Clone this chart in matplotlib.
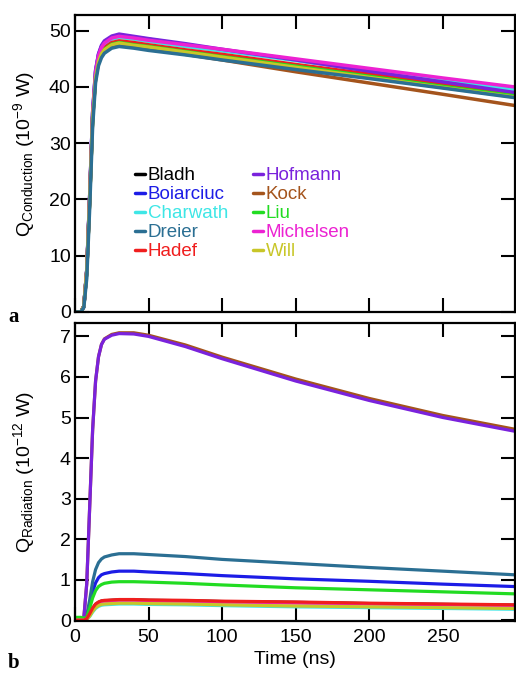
import matplotlib
matplotlib.use("Agg")
import matplotlib.pyplot as plt

plt.rcParams["font.family"] = ["Liberation Sans", "DejaVu Sans"]
plt.rcParams["mathtext.fontset"] = "custom"
plt.rcParams["mathtext.rm"] = "Liberation Sans"
plt.rcParams["mathtext.it"] = "Liberation Sans:italic"

# Model names (legend order) and line colours
models = ["Bladh", "Boiarciuc", "Charwath", "Dreier", "Hadef",
          "Hofmann", "Kock", "Liu", "Michelsen", "Will"]
colors = ["#000000", "#1c1ce6", "#3ee6e6", "#2b6f93", "#f01e1e",
          "#7a22dc", "#a4541c", "#22dc22", "#ec22d2", "#c8c628"]

# Time axis (ns)
time_ns = [0, 4, 6, 8, 10, 12, 14, 16, 18, 20, 25, 30, 40, 50, 75, 100, 150, 200, 250, 299]

# Conductive heat loss (1e-9 W)
q_cond = {
    "Bladh":     [0, 0, 1.0, 7.2, 20.2, 34.6, 41.8, 44.6, 46.1, 46.8, 47.7, 48.0, 47.6, 47.3, 46.4, 45.5, 43.8, 42.0, 40.2, 38.5],
    "Boiarciuc": [0, 0, 1.0, 7.4, 20.7, 35.4, 42.8, 45.8, 47.2, 48.0, 48.9, 49.2, 48.8, 48.5, 47.5, 46.6, 44.8, 42.9, 41.1, 39.3],
    "Charwath":  [0, 0, 1.0, 7.3, 20.5, 35.1, 42.5, 45.4, 46.8, 47.6, 48.5, 48.8, 48.5, 48.1, 47.2, 46.4, 44.7, 42.9, 41.2, 39.5],
    "Dreier":    [0, 0, 0.8, 6.0, 18.5, 33.0, 40.8, 43.8, 45.2, 46.0, 46.9, 47.2, 46.9, 46.5, 45.7, 44.8, 43.1, 41.5, 39.8, 38.1],
    "Hadef":     [0, 0, 1.0, 7.2, 20.2, 34.7, 41.9, 44.8, 46.3, 47.0, 47.9, 48.2, 47.9, 47.5, 46.6, 45.8, 44.0, 42.3, 40.5, 38.8],
    "Hofmann":   [0, 0, 1.0, 7.4, 20.7, 35.6, 43.0, 45.9, 47.4, 48.2, 49.05, 49.4, 49.0, 48.6, 47.7, 46.7, 44.8, 42.8, 40.9, 39.0],
    "Kock":      [0, 0, 1.0, 7.1, 20.0, 34.3, 41.4, 44.3, 45.7, 46.4, 47.3, 47.6, 47.2, 46.8, 45.8, 44.8, 42.7, 40.7, 38.7, 36.7],
    "Liu":       [0, 0, 1.0, 7.2, 20.1, 34.5, 41.7, 44.5, 46.0, 46.7, 47.6, 47.9, 47.5, 47.2, 46.3, 45.4, 43.7, 41.9, 40.1, 38.4],
    "Michelsen": [0, 0, 1.0, 7.4, 20.6, 35.3, 42.6, 45.6, 47.0, 47.8, 48.7, 49.0, 48.7, 48.3, 47.5, 46.7, 45.0, 43.3, 41.6, 40.0],
    "Will":      [0, 0, 1.0, 7.2, 20.1, 34.4, 41.6, 44.5, 45.9, 46.6, 47.5, 47.8, 47.4, 47.1, 46.2, 45.3, 43.5, 41.7, 39.9, 38.2],
}

# Radiative heat loss (1e-12 W)
q_rad = {
    "Bladh":     [0, 0, 0, 0.04, 0.16, 0.29, 0.39, 0.44, 0.47, 0.48, 0.49, 0.50, 0.50, 0.49, 0.48, 0.46, 0.44, 0.41, 0.39, 0.37],
    "Boiarciuc": [0, 0, 0, 0.09, 0.37, 0.70, 0.92, 1.05, 1.12, 1.15, 1.19, 1.21, 1.21, 1.19, 1.15, 1.10, 1.02, 0.96, 0.89, 0.83],
    "Charwath":  [0, 0, 0, 0.02, 0.09, 0.20, 0.29, 0.34, 0.37, 0.38, 0.39, 0.40, 0.40, 0.39, 0.38, 0.36, 0.33, 0.31, 0.29, 0.27],
    "Dreier":    [0, 0, 0, 0.12, 0.50, 0.95, 1.25, 1.42, 1.51, 1.56, 1.61, 1.64, 1.64, 1.62, 1.57, 1.50, 1.40, 1.30, 1.21, 1.12],
    "Hadef":     [0, 0, 0, 0.04, 0.16, 0.30, 0.40, 0.45, 0.48, 0.49, 0.50, 0.51, 0.51, 0.50, 0.49, 0.47, 0.45, 0.42, 0.40, 0.38],
    "Hofmann":   [0, 0, 0.05, 0.9, 2.8, 4.7, 5.9, 6.5, 6.8, 6.93, 7.03, 7.07, 7.06, 7.00, 6.75, 6.45, 5.90, 5.42, 5.00, 4.66],
    "Kock":      [0, 0, 0.05, 0.9, 2.8, 4.7, 5.9, 6.5, 6.8, 6.94, 7.05, 7.09, 7.09, 7.03, 6.79, 6.49, 5.95, 5.47, 5.05, 4.71],
    "Liu":       [0.07, 0.07, 0.05, 0.07, 0.29, 0.55, 0.73, 0.83, 0.88, 0.91, 0.94, 0.95, 0.95, 0.94, 0.91, 0.87, 0.80, 0.75, 0.70, 0.65],
    "Michelsen": [0, 0, 0, 0.03, 0.14, 0.27, 0.37, 0.42, 0.45, 0.46, 0.47, 0.48, 0.48, 0.47, 0.46, 0.44, 0.42, 0.40, 0.38, 0.36],
    "Will":      [0, 0, 0, 0.02, 0.10, 0.22, 0.31, 0.36, 0.39, 0.40, 0.41, 0.42, 0.42, 0.41, 0.40, 0.38, 0.35, 0.33, 0.31, 0.29],
}

# Drawing orders: Dreier on top in the conduction panel; Hofmann over Kock and
# Hadef over the close low curves in the radiation panel
cond_order = ["Bladh", "Boiarciuc", "Charwath", "Hadef", "Hofmann", "Kock",
              "Liu", "Michelsen", "Will", "Dreier"]
rad_order = ["Bladh", "Boiarciuc", "Charwath", "Dreier", "Kock", "Hofmann",
             "Liu", "Michelsen", "Will", "Hadef"]

FS = 14
LW = 2.5

fig = plt.figure(figsize=(5.16, 6.74), dpi=100)
ax1 = fig.add_axes([0.1453, 0.5371, 0.8527, 0.4407])
ax2 = fig.add_axes([0.1453, 0.0786, 0.8527, 0.4421])

cond_lines = {}
for name in cond_order:
    col = colors[models.index(name)]
    cond_lines[name], = ax1.plot(time_ns, q_cond[name], color=col, lw=LW, label=name,
                                 solid_capstyle="round")

for name in rad_order:
    ax2.plot(time_ns, q_rad[name], color=colors[models.index(name)], lw=LW - 0.2,
             solid_capstyle="round")

for ax in (ax1, ax2):
    ax.set_xlim(0, 299)
    ax.set_xticks([0, 50, 100, 150, 200, 250])
    ax.tick_params(direction="in", length=10, width=1.5, top=True, right=True,
                   labelsize=FS)
    ax.tick_params(axis="x", pad=6)
    ax.tick_params(axis="y", pad=3)
    for s in ax.spines.values():
        s.set_linewidth(1.6)

ax1.set_ylim(0, 52.8)
ax1.set_yticks([0, 10, 20, 30, 40, 50])
ax1.tick_params(labelbottom=False)
ax1.set_ylabel(r"Q$_{\mathregular{Conduction}}$ (10$^{\mathregular{-9}}$ W)", fontsize=FS)
ax1.yaxis.set_label_coords(-0.086, 0.53)

ax2.set_ylim(-0.02, 7.33)
ax2.set_yticks(range(0, 8))
ax2.set_ylabel(r"Q$_{\mathregular{Radiation}}$ (10$^{\mathregular{-12}}$ W)", fontsize=FS)
ax2.yaxis.set_label_coords(-0.086, 0.5)
ax2.set_xlabel("Time (ns)", fontsize=FS, labelpad=3)

leg = ax1.legend([cond_lines[m] for m in models], models,
                 loc="upper left", bbox_to_anchor=(0.136, 0.488), ncol=2, frameon=False,
                 fontsize=FS - 0.5, handlelength=0.55, handletextpad=0.15,
                 labelspacing=0.1, columnspacing=1.3, borderaxespad=0,
                 borderpad=0, labelcolor="linecolor")
for h in leg.get_lines():
    h.set_linewidth(2.5)

fig.text(0.027, 0.529, "a", fontsize=15, fontweight="bold", family="Liberation Serif",
         va="center", ha="center")
fig.text(0.027, 0.016, "b", fontsize=15, fontweight="bold", family="Liberation Serif",
         va="center", ha="center")

fig.savefig("out.png", dpi=100)
